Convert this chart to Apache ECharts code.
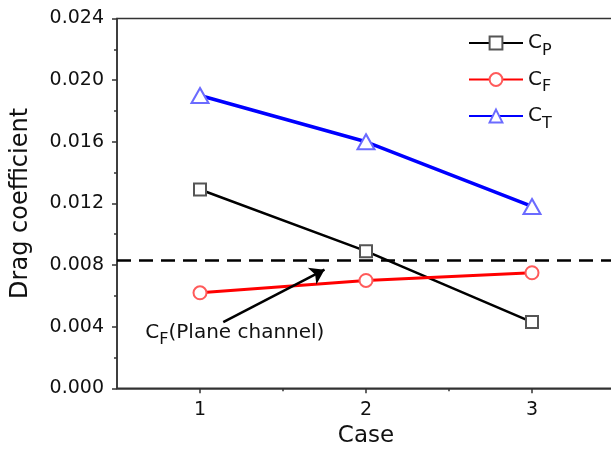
<!DOCTYPE html>
<html>
<head>
<meta charset="utf-8">
<script src="https://cdn.jsdelivr.net/npm/echarts@6/dist/echarts.min.js"></script>
<style>
  html, body { margin: 0; padding: 0; background: #fff; }
  #chart { width: 611px; height: 451px; }
</style>
</head>
<body>
<div id="chart"></div>
<script>
// data
var cases = [1, 2, 3];
var cpValues = [0.0129, 0.0089, 0.0043];
var cfValues = [0.0062, 0.0070, 0.0075];
var ctValues = [0.0190, 0.0160, 0.0118];
var planeChannelCF = 0.0083;
var arrowFrom = [1.14, 0.0043];
var arrowTo = [1.75, 0.0077];
var noteAt = [1.21, 0.0036];

var FONT = 'DejaVu Sans';
var INK = '#111';

function pairs(vals) {
    return cases.map(function (c, i) { return [c, vals[i]]; });
}

var subRich = {
    c: { fontFamily: FONT, fontSize: 20, lineHeight: 20, color: INK },
    s: { fontFamily: FONT, fontSize: 16, lineHeight: 16, padding: [15, 0, 0, 0], color: INK }
};

var myChart = echarts.init(document.getElementById('chart'));

var option = {
    animation: false,
    backgroundColor: '#fff',
    grid: {
        left: 117, top: 18.5, right: -4, bottom: 62.7,
        show: true, borderColor: '#333', borderWidth: 1.5,
        outerBoundsMode: 'none'
    },
    legend: {
        orient: 'vertical',
        left: 463, top: 22.5,
        itemWidth: 54, itemHeight: 16, itemGap: 5.5,
        data: ['CP', 'CF', 'CT'],
        formatter: function (name) { return '{c|C}{s|' + name.slice(1) + '}'; },
        textStyle: { rich: subRich }
    },
    xAxis: [
        {
            type: 'value', min: 0.5, max: 3.5,
            name: 'Case', nameLocation: 'middle', nameGap: 35,
            nameTextStyle: { fontFamily: FONT, fontSize: 23, color: INK },
            axisLine: { show: true, lineStyle: { color: '#333', width: 1.5 } },
            axisTick: { show: true, length: 5, customValues: cases, lineStyle: { color: '#333', width: 1.5 } },
            axisLabel: { customValues: cases, margin: 12, fontFamily: FONT, fontSize: 19, color: INK },
            splitLine: { show: false }
        },
        {
            type: 'value', min: 0.5, max: 3.5, position: 'bottom',
            axisLine: { show: false },
            axisTick: { show: true, length: 3, customValues: [1.5, 2.5], lineStyle: { color: '#333', width: 1.5 } },
            axisLabel: { show: false },
            splitLine: { show: false }
        }
    ],
    yAxis: {
        type: 'value', min: 0, max: 0.024, interval: 0.004,
        name: 'Drag coefficient', nameLocation: 'middle', nameGap: 84,
        nameTextStyle: { fontFamily: FONT, fontSize: 24, color: INK },
        axisLine: { show: true, lineStyle: { color: '#333', width: 1.5 } },
        axisTick: { show: true, length: 5, lineStyle: { color: '#333', width: 1.5 } },
        minorTick: { show: true, splitNumber: 2, length: 3, lineStyle: { color: '#333', width: 1.5 } },
        axisLabel: {
            margin: 13, fontFamily: FONT, fontSize: 19, color: INK,
            formatter: function (v) { return v.toFixed(3); }
        },
        splitLine: { show: false }
    },
    series: [
        {
            name: 'helper', type: 'line', data: [], silent: true,
            markLine: {
                silent: true, animation: false,
                label: { show: false },
                symbol: ['none', 'none'],
                data: [
                    [
                        { coord: [0.5, planeChannelCF], symbol: 'none', lineStyle: { type: [14, 8], width: 2.5, color: '#000' } },
                        { coord: [3.5, planeChannelCF], symbol: 'none' }
                    ],
                    [
                        { coord: arrowFrom, symbol: 'none', lineStyle: { type: 'solid', width: 2.5, color: '#000' } },
                        { coord: arrowTo, symbol: 'arrow', symbolSize: 14 }
                    ]
                ]
            },
            markPoint: {
                silent: true, animation: false,
                symbol: 'circle', symbolSize: 0,
                data: [{ coord: noteAt }],
                label: {
                    show: true, position: 'inside',
                    formatter: '{c|C}{s|F}{c|(Plane channel)}',
                    rich: subRich
                }
            }
        },
        {
            name: 'CP', type: 'line', data: pairs(cpValues),
            symbol: 'emptyRect', symbolSize: 12, z: 3,
            itemStyle: { color: '#555', borderWidth: 1.5 },
            lineStyle: { color: '#000', width: 2.5 }
        },
        {
            name: 'CF', type: 'line', data: pairs(cfValues),
            symbol: 'emptyCircle', symbolSize: 13, z: 3,
            itemStyle: { color: '#ff5a5a', borderWidth: 1.5 },
            lineStyle: { color: '#ff0000', width: 3 }
        },
        {
            name: 'CT', type: 'line', data: pairs(ctValues),
            symbol: 'emptyTriangle', symbolSize: [17, 15], z: 3,
            itemStyle: { color: '#6b6bff', borderWidth: 1.5 },
            lineStyle: { color: '#0000ff', width: 3.5 }
        }
    ]
};

myChart.setOption(option, true);
</script>
</body>
</html>
